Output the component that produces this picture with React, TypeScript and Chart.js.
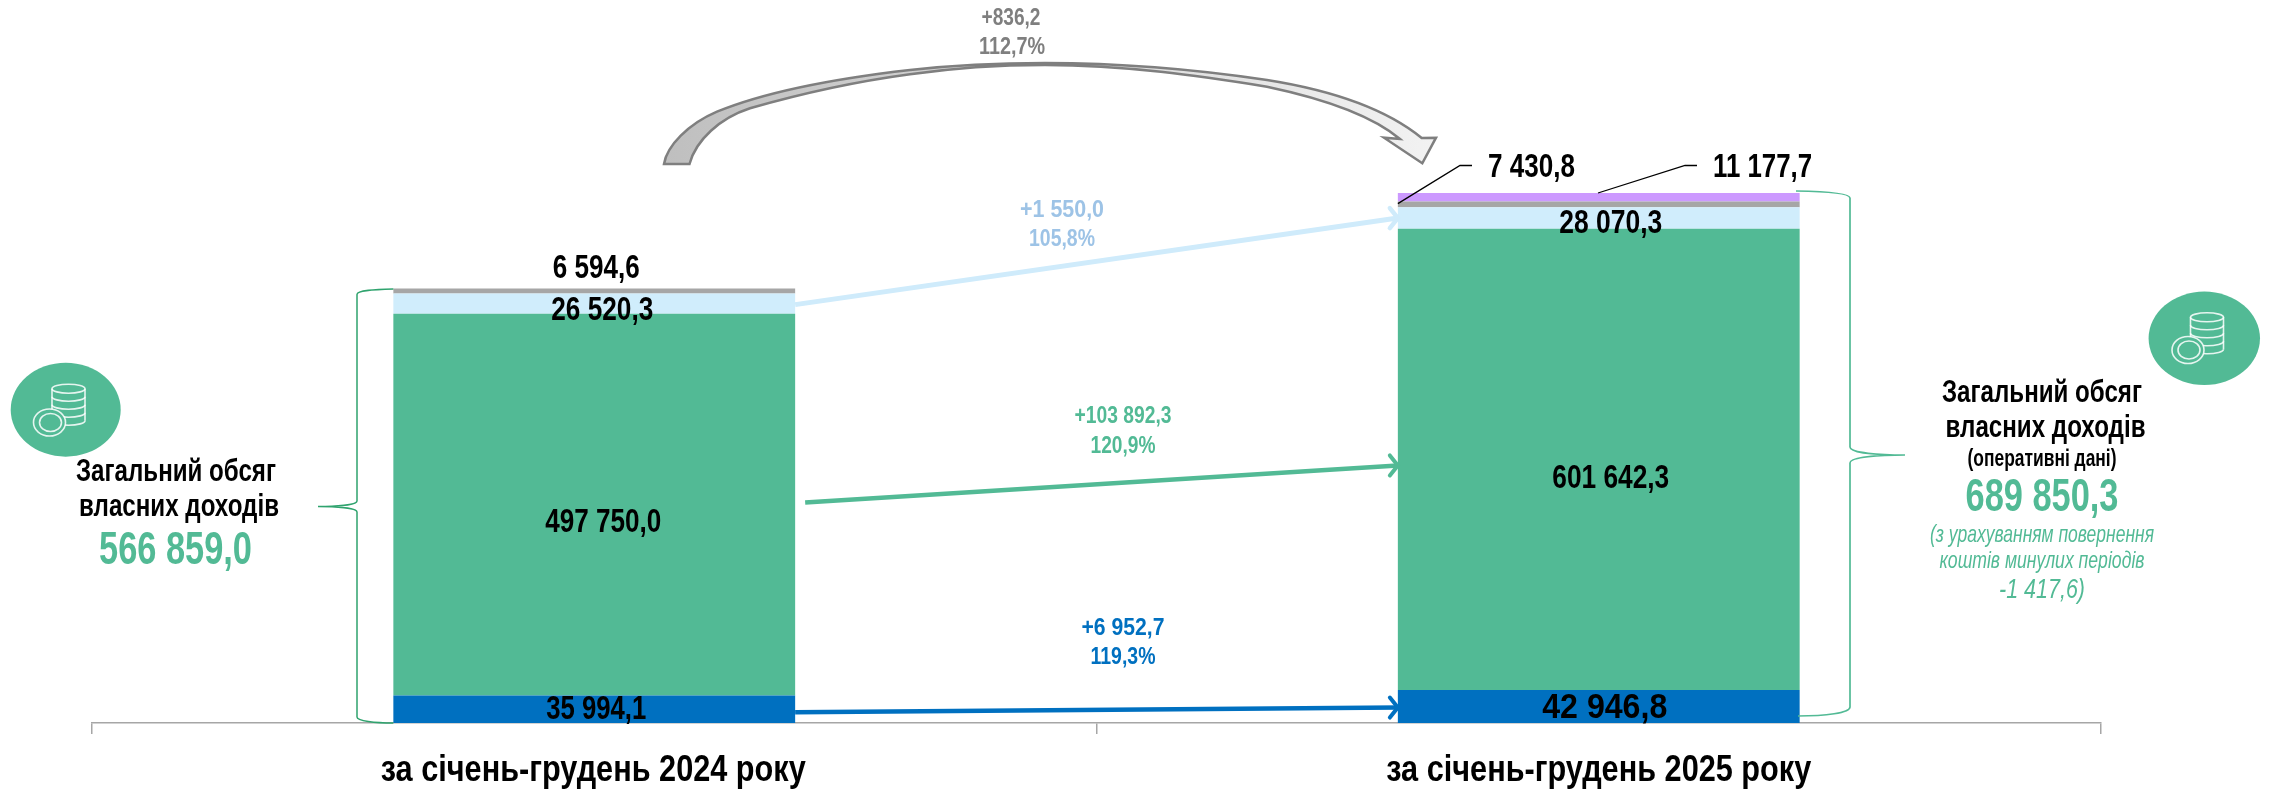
import React, { useEffect, useRef } from "react";
import { Chart, registerables } from "chart.js";

Chart.register(...registerables);

const categories = ["за січень-грудень 2024 року", "за січень-грудень 2025 року"];
const blueValues = [35994.1, 42946.8];
const greenValues = [497750.0, 601642.3];
const lightValues = [26520.3, 28070.3];
const greyValues = [6594.6, 7430.8];
const purpleValues = [null, 11177.7];
const totals = ["566 859,0", "689 850,3"];
const deltaGrey = ["+836,2", "112,7%"];
const deltaLight = ["+1 550,0", "105,8%"];
const deltaGreen = ["+103 892,3", "120,9%"];
const deltaBlue = ["+6 952,7", "119,3%"];
const totalTitle = ["Загальний обсяг", "власних доходів"];
const operative = "(оперативні дані)";
const returnNote = ["(з урахуванням повернення", "коштів минулих періодів", "-1 417,6)"];

const BLUE = "#0070C0";
const GREEN = "#52BA95";
const LIGHT = "#D0EDFC";
const GREY = "#A6A6A6";
const PURPLE = "#CC99FF";
const DELTA_GREY = "#7F7F7F";
const DELTA_LIGHT = "#9DC3E6";
const FF = '"Liberation Sans", Arial, sans-serif';

const fmt = (v: number) => {
  const [a, b] = v.toFixed(1).split(".");
  return a.replace(/\B(?=(\d{3})+$)/g, " ") + "," + b;
};

function txt(ctx: any, s: string, cx: number, cy: number, w: number, font: string, color: string) {
  ctx.font = font;
  ctx.fillStyle = color;
  ctx.textAlign = "center";
  ctx.textBaseline = "middle";
  ctx.fillText(s, cx, cy, w);
}

function coins(ctx: any, cx: number, cy: number, rx: number, ry: number, stackX: number, coinX: number, coinY: number) {
  ctx.save();
  ctx.fillStyle = GREEN;
  ctx.beginPath();
  ctx.ellipse(cx, cy, rx, ry, 0, 0, Math.PI * 2);
  ctx.fill();
  ctx.strokeStyle = "rgba(255,255,255,0.85)";
  ctx.lineWidth = 1.6;
  const top = cy - 21;
  const r = 16.5;
  ctx.beginPath();
  ctx.ellipse(stackX, top, r, 4.5, 0, 0, Math.PI * 2);
  ctx.stroke();
  for (let k = 0; k < 4; k++) {
    ctx.beginPath();
    ctx.ellipse(stackX, top + 8 + k * 8, r, 4.5, 0, 0, Math.PI);
    ctx.stroke();
  }
  ctx.beginPath();
  ctx.moveTo(stackX - r, top);
  ctx.lineTo(stackX - r, top + 32);
  ctx.moveTo(stackX + r, top);
  ctx.lineTo(stackX + r, top + 32);
  ctx.stroke();
  ctx.fillStyle = GREEN;
  ctx.beginPath();
  ctx.ellipse(coinX, coinY, 16, 13.5, 0, 0, Math.PI * 2);
  ctx.fill();
  ctx.stroke();
  ctx.beginPath();
  ctx.ellipse(coinX + 1, coinY, 11, 9, 0, 0, Math.PI * 2);
  ctx.stroke();
  ctx.restore();
}

function flow(ctx: any, x0: number, y0: number, x1: number, y1: number, color: string, lw: number) {
  ctx.save();
  ctx.strokeStyle = color;
  ctx.lineWidth = lw;
  ctx.beginPath();
  ctx.moveTo(x0, y0);
  ctx.lineTo(x1, y1);
  ctx.stroke();
  ctx.lineCap = "round";
  ctx.lineWidth = lw - 0.5;
  ctx.beginPath();
  ctx.moveTo(x1 - 8, y1 - 10);
  ctx.lineTo(x1, y1);
  ctx.lineTo(x1 - 8, y1 + 10);
  ctx.stroke();
  ctx.restore();
}

const overlay = {
  id: "overlay",
  afterDatasetsDraw(chart: any) {
    const ctx = chart.ctx;
    const seg = (d: number, i: number) => chart.getDatasetMeta(d).data[i];
    const mid = (d: number, i: number) => (seg(d, i).y + seg(d, i).base) / 2;
    const B = "bold 33px " + FF;
    const T = "bold 31px " + FF;

    ctx.save();
    const b0 = seg(0, 0);
    const b1 = seg(0, 1);

    // flows between bars, behind the labels
    const r0 = b0.x + b0.width / 2;
    const l1 = b1.x - b1.width / 2;
    flow(ctx, r0, mid(2, 0) + 1, l1, mid(2, 1), "#CFEBFB", 5);
    flow(ctx, r0 + 10, mid(1, 0) - 2, l1, mid(1, 1) + 6, GREEN, 4.5);
    flow(ctx, r0, mid(0, 0) + 3, l1, mid(0, 1) + 1, BLUE, 4.5);

    // values on the bars
    txt(ctx, fmt(blueValues[0]), b0.x + 2, mid(0, 0) + 1, 100, B, "#000");
    txt(ctx, fmt(greenValues[0]), b0.x + 9, mid(1, 0) + 18, 116, B, "#000");
    txt(ctx, fmt(lightValues[0]), b0.x + 8, mid(2, 0) + 7, 102, B, "#000");
    txt(ctx, fmt(greyValues[0]), b0.x + 2, seg(3, 0).y - 19, 87, B, "#000");
    txt(ctx, fmt(blueValues[1]), b1.x + 6, mid(0, 1) + 2, 125, "bold 35px " + FF, "#000");
    txt(ctx, fmt(greenValues[1]), b1.x + 12, mid(1, 1) + 19, 117, B, "#000");
    txt(ctx, fmt(lightValues[1]), b1.x + 12, mid(2, 1) + 6, 103, B, "#000");
    const lblY = seg(4, 1).y - 26.5;
    txt(ctx, fmt(greyValues[1]), 1531.5, lblY + 1, 87, B, "#000");
    txt(ctx, fmt(purpleValues[1] as number), 1762.5, lblY + 1, 99, B, "#000");

    // x-axis category labels, fitted to the reference width
    const xs = chart.scales.x;
    categories.forEach((c, i) => {
      txt(ctx, c, xs.getPixelForValue(i) + (i === 0 ? -1 : 0), 771, 425, "bold 37px " + FF, "#000");
    });

    // leaders
    ctx.strokeStyle = "#000";
    ctx.lineWidth = 1.3;
    ctx.beginPath();
    ctx.moveTo(b1.x - b1.width / 2, seg(3, 1).y + 2);
    ctx.lineTo(1460, lblY - 1);
    ctx.lineTo(1472, lblY - 1);
    ctx.moveTo(1598, seg(4, 1).y);
    ctx.lineTo(1685, lblY - 1);
    ctx.lineTo(1697, lblY - 1);
    ctx.stroke();

    // delta labels
    const D = "bold 24px " + FF;
    txt(ctx, deltaGrey[0], 1011, 18, 59, D, DELTA_GREY);
    txt(ctx, deltaGrey[1], 1012, 47, 66, D, DELTA_GREY);
    txt(ctx, deltaLight[0], 1062, 210, 84, D, DELTA_LIGHT);
    txt(ctx, deltaLight[1], 1062, 239, 66, D, DELTA_LIGHT);
    txt(ctx, deltaGreen[0], 1123, 416.5, 97, D, GREEN);
    txt(ctx, deltaGreen[1], 1123, 446, 65, D, GREEN);
    txt(ctx, deltaBlue[0], 1123, 628, 83, D, BLUE);
    txt(ctx, deltaBlue[1], 1123, 657.5, 65, D, BLUE);

    // big curved arrow
    const g = ctx.createLinearGradient(664, 0, 1436, 0);
    g.addColorStop(0, "#BFBFBF");
    g.addColorStop(1, "#F2F2F2");
    ctx.fillStyle = g;
    ctx.strokeStyle = DELTA_GREY;
    ctx.lineWidth = 2.5;
    ctx.lineJoin = "miter";
    ctx.beginPath();
    ctx.moveTo(664, 164);
    ctx.bezierCurveTo(667, 146, 688, 124, 717, 111.7);
    ctx.bezierCurveTo(770, 90, 840, 78, 910, 70);
    ctx.bezierCurveTo(950, 65.5, 1000, 63, 1045, 63);
    ctx.bezierCurveTo(1120, 63, 1200, 70, 1267, 80);
    ctx.bezierCurveTo(1330, 90, 1385, 108, 1421.7, 138);
    ctx.lineTo(1436, 137.7);
    ctx.lineTo(1422.3, 163.3);
    ctx.lineTo(1384, 137.7);
    ctx.lineTo(1400, 139);
    ctx.bezierCurveTo(1375, 118, 1330, 100, 1267, 86.7);
    ctx.bezierCurveTo(1200, 76, 1125, 65, 1045, 65);
    ctx.bezierCurveTo(1000, 65, 950, 68.5, 910, 74.3);
    ctx.bezierCurveTo(860, 81, 800, 94, 750, 108.3);
    ctx.bezierCurveTo(720, 118, 696, 140, 689.5, 164);
    ctx.closePath();
    ctx.fill();
    ctx.stroke();

    // braces
    const top0 = seg(3, 0).y;
    const bot0 = b0.base;
    ctx.lineWidth = 1.5;
    ctx.strokeStyle = "#2FA36E";
    ctx.beginPath();
    ctx.moveTo(b0.x - b0.width / 2, top0 + 0.5);
    ctx.bezierCurveTo(375, top0 + 1, 357, top0 + 2, 357, top0 + 6);
    ctx.lineTo(357, 501);
    ctx.bezierCurveTo(357, 505, 335, 506.5, 318, 506.5);
    ctx.bezierCurveTo(335, 506.5, 357, 508, 357, 512);
    ctx.lineTo(357, bot0 - 6);
    ctx.bezierCurveTo(357, bot0 - 2, 375, bot0, b0.x - b0.width / 2, bot0);
    ctx.stroke();

    ctx.strokeStyle = GREEN;
    ctx.lineWidth = 1.7;
    ctx.beginPath();
    ctx.moveTo(1796, 191);
    ctx.bezierCurveTo(1825, 191.5, 1850, 193, 1850, 198);
    ctx.lineTo(1850, 447);
    ctx.bezierCurveTo(1850, 453, 1880, 455, 1905, 455);
    ctx.bezierCurveTo(1880, 455, 1850, 457, 1850, 463);
    ctx.lineTo(1850, 707);
    ctx.bezierCurveTo(1850, 713, 1825, 716, 1798, 716);
    ctx.stroke();

    // left block
    coins(ctx, 65.7, 409.7, 55, 47, 68.5, 49.5, 422.5);
    txt(ctx, totalTitle[0], 176, 472, 200, T, "#000");
    txt(ctx, totalTitle[1], 179, 507.5, 200, T, "#000");
    txt(ctx, totals[0], 175.5, 551.5, 153, "bold 46px " + FF, GREEN);

    // right block
    coins(ctx, 2204.3, 338.3, 55.7, 46.7, 2207, 2188, 350);
    txt(ctx, totalTitle[0], 2042, 393, 200, T, "#000");
    txt(ctx, totalTitle[1], 2045.5, 428, 200, T, "#000");
    txt(ctx, operative, 2042, 460, 149, "bold 23px " + FF, "#000");
    txt(ctx, totals[1], 2042, 498, 153, "bold 46px " + FF, GREEN);
    txt(ctx, returnNote[0], 2042, 535, 224, "italic 24px " + FF, GREEN);
    txt(ctx, returnNote[1], 2042, 561, 205, "italic 24px " + FF, GREEN);
    txt(ctx, returnNote[2], 2042, 590, 86, "italic 28px " + FF, GREEN);
    ctx.restore();
  },
};

export default function App() {
  const ref = useRef<HTMLCanvasElement | null>(null);
  useEffect(() => {
    document.body.style.margin = "0";
    const mk = (data: any[], color: string) => ({
      data,
      backgroundColor: color,
      borderWidth: 0,
      stack: "s",
      barPercentage: 0.8,
      categoryPercentage: 0.5,
    });
    const chart = new Chart(ref.current as HTMLCanvasElement, {
      type: "bar",
      data: {
        labels: categories,
        datasets: [
          mk(blueValues, BLUE),
          mk(greenValues, GREEN),
          mk(lightValues, LIGHT),
          mk(greyValues, GREY),
          mk(purpleValues, PURPLE),
        ],
      },
      options: {
        responsive: false,
        devicePixelRatio: 1,
        animation: false,
        layout: { padding: { left: 92, right: 176, top: 0, bottom: 0 } },
        plugins: { legend: { display: false }, tooltip: { enabled: false }, title: { display: false } },
        scales: {
          x: {
            stacked: true,
            offset: true,
            afterFit: (s: any) => {
              s.height = 69;
            },
            grid: { offset: true, drawOnChartArea: false, drawTicks: true, tickLength: 11, color: GREY, lineWidth: 1.5 },
            border: { color: GREY, width: 1.5 },
            ticks: { display: false },
          },
          y: { stacked: true, display: false, min: 0, max: 943000 },
        },
      } as any,
      plugins: [overlay],
    });
    return () => chart.destroy();
  }, []);
  return (
    <div style={{ position: "absolute", left: 0, top: 0, width: 2277, height: 792, background: "#fff" }}>
      <canvas ref={ref} width={2277} height={792} style={{ display: "block", width: 2277, height: 792 }} />
    </div>
  );
}
